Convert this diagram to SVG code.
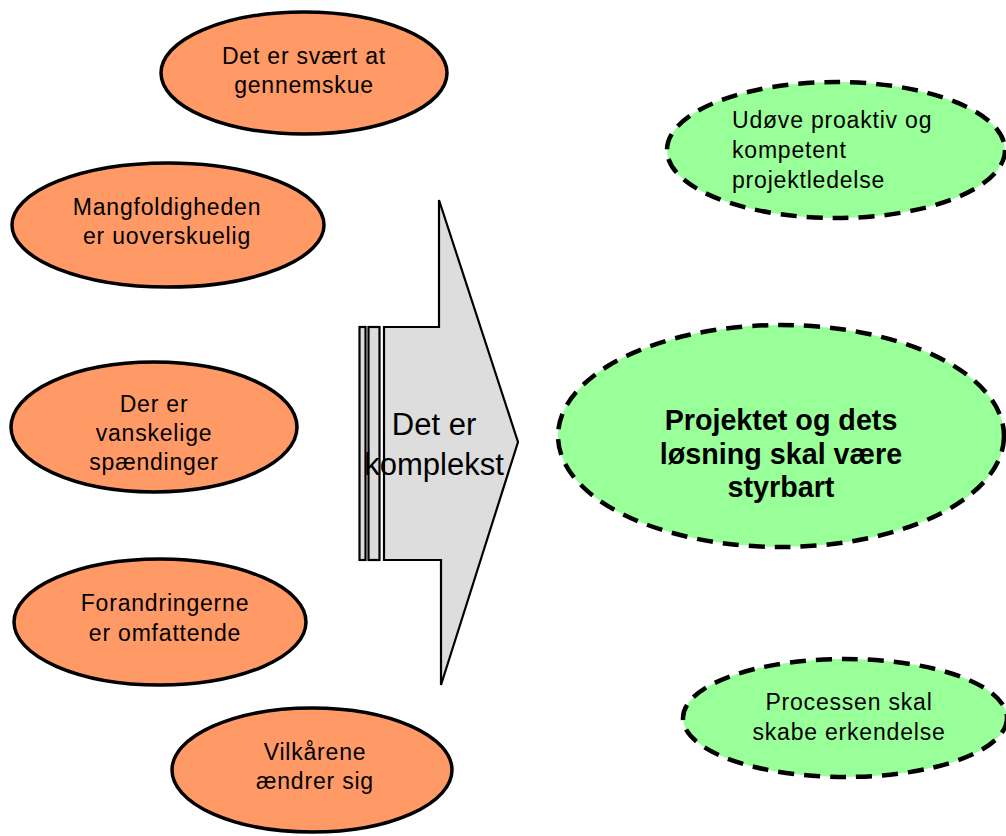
<svg xmlns="http://www.w3.org/2000/svg" width="1006" height="836" viewBox="0 0 1006 836">
<style>
.bg{fill:#ffffff}
.org{fill:#FF9966;stroke:#000;stroke-width:3.5}
.grn{fill:#99FF99;stroke:#000;stroke-width:4.5;stroke-dasharray:16 10}
.arw{fill:#DDDDDD;stroke:#000;stroke-width:2.2;stroke-linejoin:miter}
.t{font-family:"Liberation Sans",Arial,sans-serif;font-size:23px;fill:#000;text-anchor:middle;letter-spacing:0.8px}
.tl{font-family:"Liberation Sans",Arial,sans-serif;font-size:23px;fill:#000;letter-spacing:0.8px}
.tb{font-family:"Liberation Sans",Arial,sans-serif;font-size:28.7px;font-weight:bold;fill:#000;text-anchor:middle}
.ta{font-family:"Liberation Sans",Arial,sans-serif;font-size:31px;fill:#000;text-anchor:middle}
</style>
<rect class="bg" x="0" y="0" width="1006" height="836"/>
<g id="arrow">
<rect class="arw" x="359.5" y="327" width="6" height="233"/>
<rect class="arw" x="368.5" y="327" width="11" height="233"/>
<polygon class="arw" points="384,327 439,327 439,200 518,442 441,685 441,560 384,560"/>
<text class="ta" x="434" y="435">Det er</text>
<text class="ta" x="434" y="475">komplekst</text>
</g>
<g id="o1">
<ellipse class="org" cx="304" cy="73" rx="143" ry="61"/>
<text class="t" x="304" y="64">Det er svært at</text>
<text class="t" x="304" y="93">gennemskue</text>
</g>
<g id="o2">
<ellipse class="org" cx="168" cy="225" rx="156" ry="62"/>
<text class="t" x="167" y="215">Mangfoldigheden</text>
<text class="t" x="167" y="244">er uoverskuelig</text>
</g>
<g id="o3">
<ellipse class="org" cx="154" cy="427" rx="143" ry="65"/>
<text class="t" x="154" y="412">Der er</text>
<text class="t" x="154" y="441">vanskelige</text>
<text class="t" x="154" y="470">spændinger</text>
</g>
<g id="o4">
<ellipse class="org" cx="160" cy="622" rx="146" ry="63"/>
<text class="t" x="165" y="611">Forandringerne</text>
<text class="t" x="165" y="641">er omfattende</text>
</g>
<g id="o5">
<ellipse class="org" cx="312" cy="770" rx="140" ry="62"/>
<text class="t" x="315" y="760">Vilkårene</text>
<text class="t" x="315" y="789">ændrer sig</text>
</g>
<g id="g1">
<ellipse class="grn" cx="836" cy="150" rx="169" ry="68"/>
<text class="tl" x="732" y="128">Udøve proaktiv og</text>
<text class="tl" x="732" y="158">kompetent</text>
<text class="tl" x="732" y="188">projektledelse</text>
</g>
<g id="g2">
<ellipse class="grn" cx="781" cy="436" rx="223" ry="111"/>
<text class="tb" x="781" y="430">Projektet og dets</text>
<text class="tb" x="781" y="464">løsning skal være</text>
<text class="tb" x="781" y="497">styrbart</text>
</g>
<g id="g3">
<ellipse class="grn" cx="845" cy="718" rx="162" ry="59"/>
<text class="t" x="849" y="710">Processen skal</text>
<text class="t" x="849" y="740">skabe erkendelse</text>
</g>
<g id="connectors"></g>
</svg>
